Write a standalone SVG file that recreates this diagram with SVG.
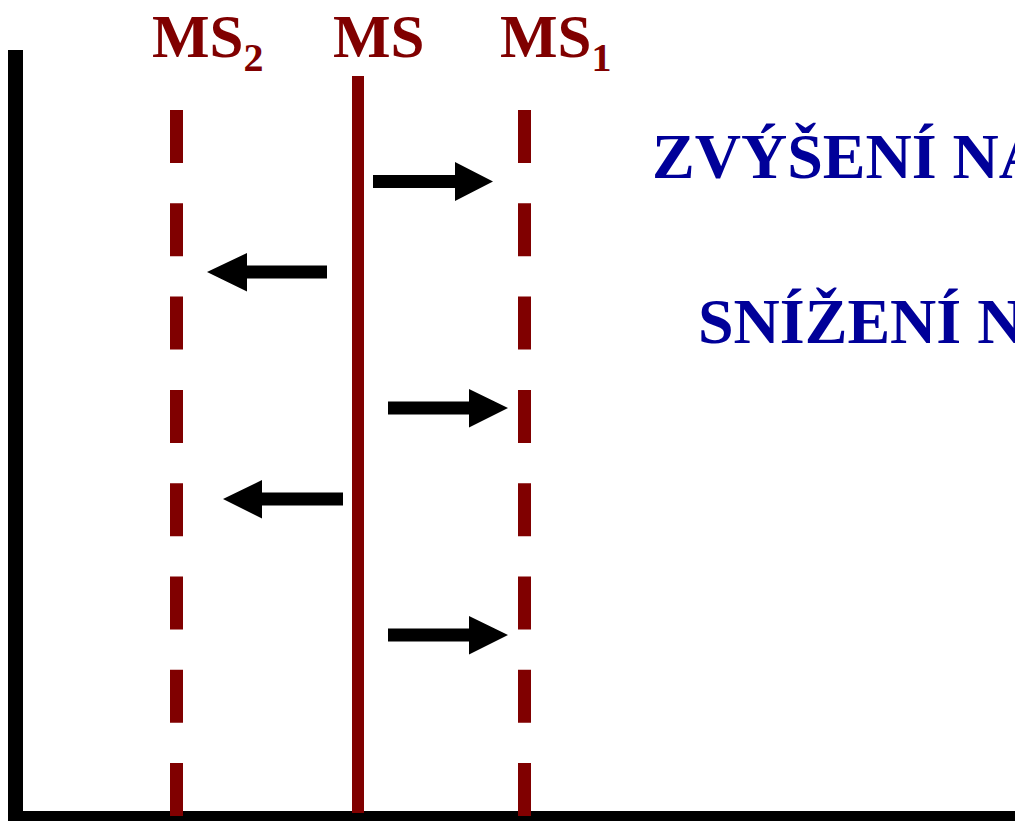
<svg xmlns="http://www.w3.org/2000/svg" width="1015" height="821" viewBox="0 0 1015 821">
<style>
.lbl{font-family:"Liberation Serif","Times New Roman",serif;font-weight:bold;fill:#800000;font-size:61px}
.sub{font-size:40px}
.blue{font-family:"Liberation Serif","Times New Roman",serif;font-weight:bold;fill:#000099;font-size:64px}
.dash{stroke:#800000;stroke-width:13;stroke-dasharray:53 40.3;fill:none}
.arrow{fill:#000}
</style>
<rect width="1015" height="821" fill="#fff"/>
<g id="axes">
<rect x="8" y="50" width="15" height="771" fill="#000"/>
<rect x="12" y="811" width="1003" height="14" fill="#000"/>
</g>
<g id="ms2">
<line class="dash" x1="176.5" y1="110" x2="176.5" y2="817"/>
<text class="lbl" x="152" y="57">MS<tspan class="sub" dy="14">2</tspan></text>
</g>
<g id="ms">
<rect x="352" y="76" width="12" height="737" fill="#800000"/>
<text class="lbl" x="333" y="57">MS</text>
</g>
<g id="ms1">
<line class="dash" x1="524.5" y1="110" x2="524.5" y2="817"/>
<text class="lbl" x="500" y="57">MS<tspan class="sub" dy="14">1</tspan></text>
</g>
<g id="connectors">
<polygon class="arrow" points="373,175 455,175 455,162 493,181.5 455,201 455,188 373,188"/>
<polygon class="arrow" points="327,265.5 247,265.5 247,253 207,272 247,291.5 247,278.5 327,278.5"/>
<polygon class="arrow" points="388,401.5 469,401.5 469,389 508,408 469,427.5 469,414.5 388,414.5"/>
<polygon class="arrow" points="343,492.5 262,492.5 262,480 223,499 262,518.5 262,505.5 343,505.5"/>
<polygon class="arrow" points="388,628.5 469,628.5 469,616 508,635 469,654.5 469,641.5 388,641.5"/>
</g>
<g id="texts">
<text class="blue" x="652" y="178">ZVÝŠENÍ NA</text>
<text class="blue" x="698" y="343">SNÍŽENÍ N</text>
</g>
</svg>
